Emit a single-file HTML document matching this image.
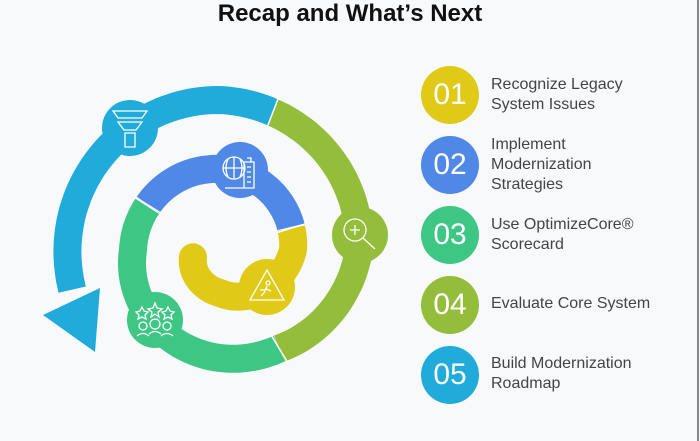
<!DOCTYPE html>
<html><head><meta charset="utf-8"><style>
body{margin:0;width:700px;height:441px;background:#f8f9fb;font-family:"Liberation Sans",sans-serif;overflow:hidden;position:relative}
.t{position:absolute;left:0;width:700px;top:0px;text-align:center;font-weight:bold;font-size:24px;color:#111}
.c{position:absolute;left:421px;width:58px;height:58px;border-radius:50%;color:#fff;font-size:30px;line-height:58px;text-align:center;font-weight:300}
.l{position:absolute;left:491px;font-size:16px;line-height:20px;color:#444}
.edge{position:absolute;left:697px;top:0;width:2px;height:441px;background:#888}
</style></head><body>
<div class="t">Recap and What’s Next</div>
<div class="edge"></div>
<svg id="s" width="700" height="441" style="position:absolute;left:0;top:0"></svg>
<div class="c" style="top:66px;background:#e0ca17">01</div>
<div class="c" style="top:136px;background:#4f88e6">02</div>
<div class="c" style="top:206px;background:#3ec784">03</div>
<div class="c" style="top:276px;background:#93bd3b">04</div>
<div class="c" style="top:346px;background:#20abdb">05</div>
<div class="l" style="top:75px">Recognize Legacy<br>System Issues</div>
<div class="l" style="top:135px">Implement<br>Modernization<br>Strategies</div>
<div class="l" style="top:215px">Use OptimizeCore®<br>Scorecard</div>
<div class="l" style="top:294px">Evaluate Core System</div>
<div class="l" style="top:354px">Build Modernization<br>Roadmap</div>
<script>
var cx=220,cy=250;
var K=[[-195,153],[-90,150],[0,139],[59,115],[90,108],[180,87],[270,81],[360,73],[450,43],[525,28]];
function r(t){for(var i=0;i<K.length-1;i++){if(t<=K[i+1][0]){var a=K[i],b=K[i+1];return a[1]+(b[1]-a[1])*(t-a[0])/(b[0]-a[0]);}}return 28;}
function P(t){var a=t*Math.PI/180,R=r(t);return [cx+R*Math.cos(a),cy+R*Math.sin(a)];}
function seg(a,b,col){var d="";for(var t=a;t<=b+0.01;t+=2){var p=P(t);d+=(d?"L":"M")+p[0].toFixed(1)+" "+p[1].toFixed(1);}
return '<path d="'+d+'" fill="none" stroke="'+col+'" stroke-width="28" stroke-linecap="butt"/>';}
var h="";
h+=seg(-195,-69,"#20abdb");
h+=seg(-69,59,"#93bd3b");
h+=seg(59,212,"#3ec784");
h+=seg(212,343,"#4f88e6");
h+=seg(343,525,"#e0ca17");
var e=P(525);h+='<circle cx="'+e[0]+'" cy="'+e[1]+'" r="14" fill="#e0ca17"/>';
h+='<polygon points="43,315 100,288 95,352" fill="#20abdb"/>';
[-69,59,212,343].forEach(function(t){var a=t*Math.PI/180,R=r(t);h+='<line x1="'+(cx+(R-15)*Math.cos(a))+'" y1="'+(cy+(R-15)*Math.sin(a))+'" x2="'+(cx+(R+15)*Math.cos(a))+'" y2="'+(cy+(R+15)*Math.sin(a))+'" stroke="#fff" stroke-width="1.5"/>';});
var C=[[130,128,"#20abdb"],[240,170,"#4f88e6"],[360,235,"#93bd3b"],[267,287,"#e0ca17"],[155,320,"#3ec784"]];
C.forEach(function(c){h+='<circle cx="'+c[0]+'" cy="'+c[1]+'" r="28" fill="'+c[2]+'"/>';});
var w='fill="none" stroke="#fff" stroke-width="1.3"';
h+='<path d="M113 111h34l-5 7h-24zM118 122h24l-6 8h-12zM125 133h10v14h-10z" '+w+'/>';
h+='<circle cx="234" cy="168" r="11" '+w+'/><path d="M223 168h22M234 157v22M228 159q-4 9 0 18M240 159q4 9 0 18" '+w+'/><path d="M244 162h10v26h-10zM247 158h4v4M247 167h4M247 172h4M247 177h4M247 182h4M225 188h19" '+w+'/>';
h+='<circle cx="355" cy="230" r="11" '+w+'/><path d="M350 230h10M355 225v10M363 238l12 11" '+w+'/>';
h+='<path d="M267 270l-17 30h34z" '+w+'/><circle cx="268" cy="283" r="2" '+w+'/><path d="M267 286l-3 7M266 289l5 2M264 293l-3 3M260 290h5" '+w+'/>';
h+='<path d="M142 307l2 4 4 1-3 3 1 4-4-2-4 2 1-4-3-3 4-1zM155 303l2 5 5 1-4 3 1 5-4-3-4 3 1-5-4-3 5-1zM168 307l2 4 4 1-3 3 1 4-4-2-4 2 1-4-3-3 4-1z" '+w+'/><circle cx="143" cy="326" r="4" '+w+'/><circle cx="155" cy="324" r="5" '+w+'/><circle cx="167" cy="326" r="4" '+w+'/><path d="M137 336q6-5 12 0M149 334q6-5 12 0M161 336q6-5 12 0" '+w+'/>';
document.getElementById("s").innerHTML=h;
</script>
</body></html>
